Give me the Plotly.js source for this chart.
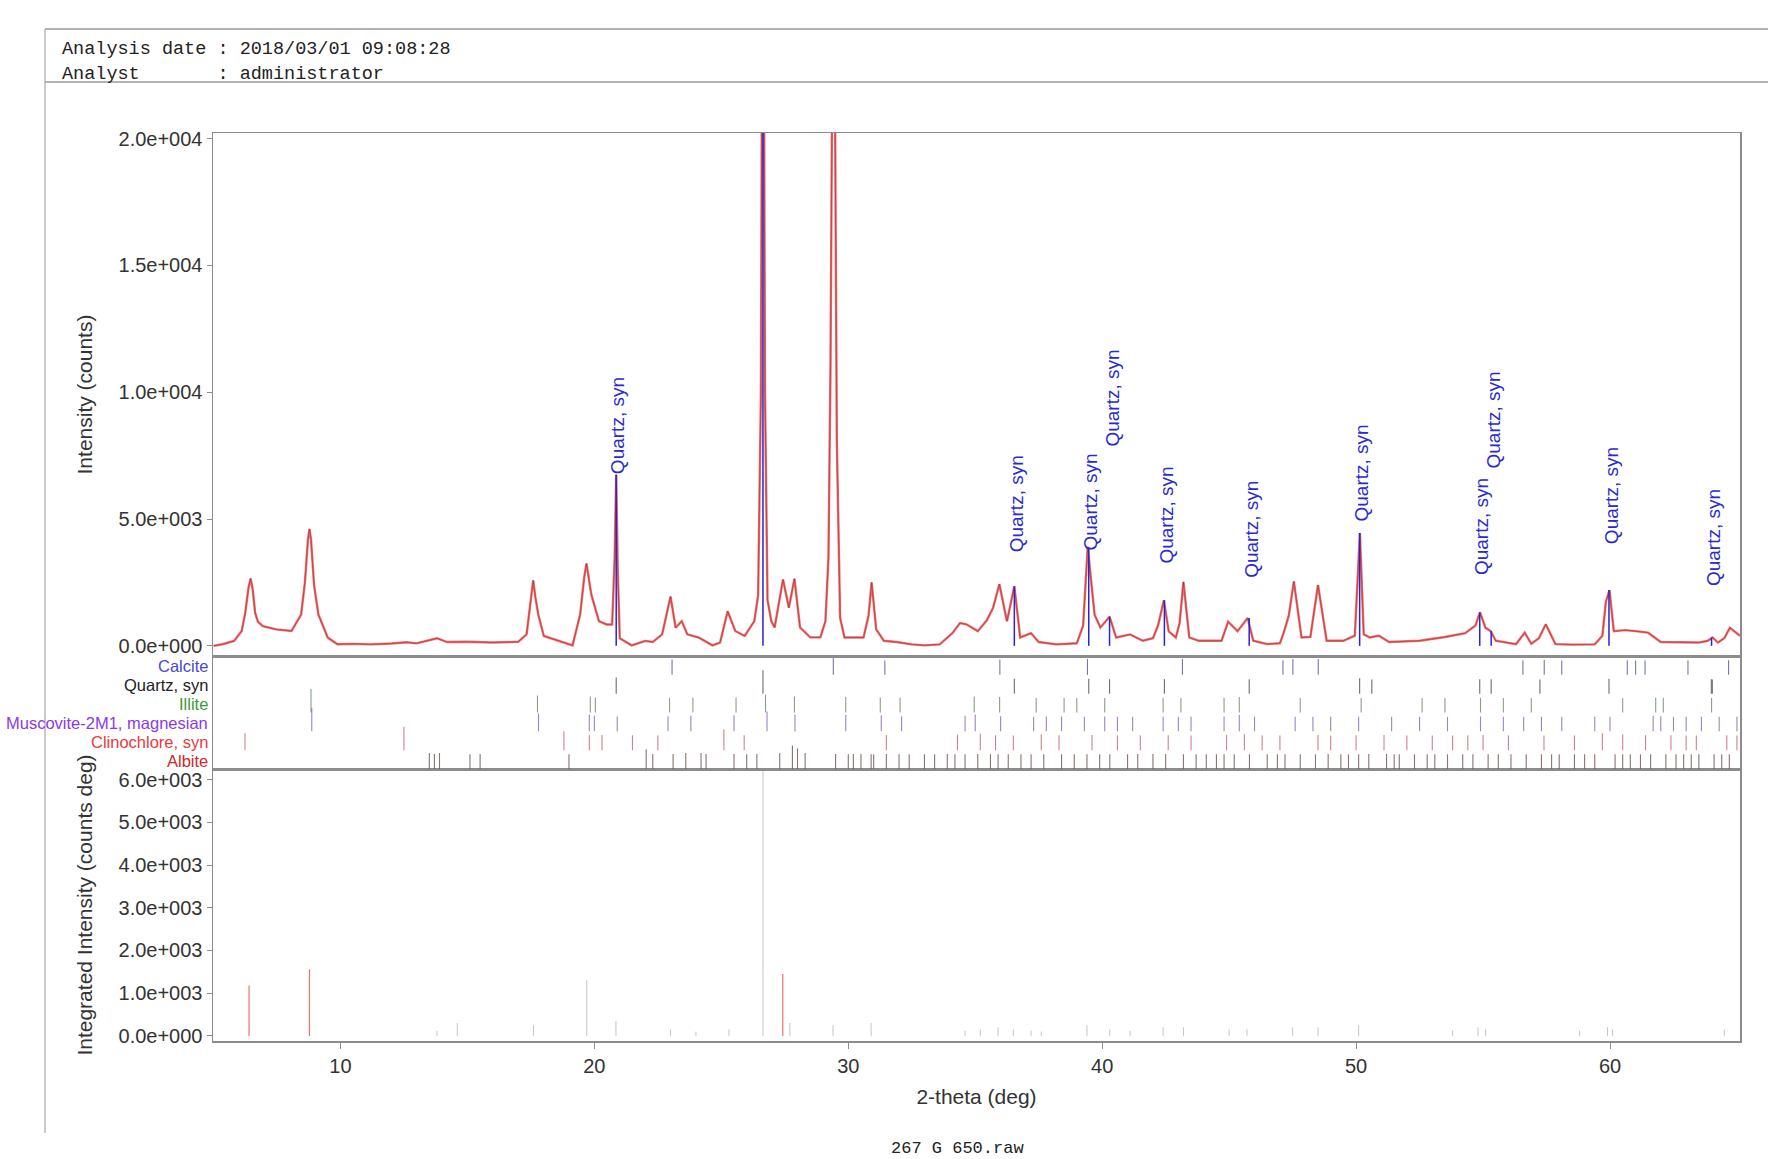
<!DOCTYPE html>
<html>
<head>
<meta charset="utf-8">
<script src="https://cdn.plot.ly/plotly-3.0.1.min.js"></script>
<style>
html,body{margin:0;padding:0;background:#ffffff;}
#chart{width:1768px;height:1159px;}
</style>
</head>
<body>
<div id="chart"></div>
<script>
// ---------------- DATA ----------------
// measured XRD profile: 2-theta (deg) and intensity (counts)
const twoTheta = [
  5.00, 5.35, 5.81, 6.11, 6.25, 6.38, 6.46, 6.54, 6.64, 6.75, 6.94, 7.47, 8.07, 8.45, 8.60, 8.72, 8.78, 8.84, 8.96, 9.13, 9.50, 9.88,
  10.50, 11.20, 12.00, 12.60, 13.00, 13.80, 14.20, 15.00, 16.00, 17.00, 17.33, 17.50, 17.59, 17.68, 17.79, 18.01, 18.62, 19.14, 19.44, 19.60, 19.69, 19.78, 19.88,
  20.18, 20.48, 20.70, 20.80, 20.86, 20.92, 21.00, 21.47, 22.00, 22.30, 22.67, 23.00, 23.20, 23.44, 23.66, 24.12, 24.65, 24.95, 25.25, 25.55, 25.92, 26.30, 26.45, 26.56, 26.64, 26.72, 26.82, 26.97,
  27.10, 27.43, 27.66, 27.88, 28.10, 28.50, 28.90, 29.10, 29.22, 29.30, 29.36, 29.42, 29.48, 29.55, 29.68, 29.85, 30.60, 30.80, 30.92, 31.10, 31.40, 31.90, 32.50, 33.00, 33.60,
  34.10, 34.40, 34.65, 35.10, 35.45, 35.70, 35.95, 36.25, 36.54, 36.77, 37.20, 37.50, 38.20, 39.00, 39.25, 39.43, 39.70, 39.93, 40.29, 40.55, 41.10, 41.60, 42.00, 42.20, 42.43, 42.62, 42.90, 43.05, 43.20, 43.43, 43.80, 44.70, 44.96, 45.33, 45.73, 45.95,
  46.50, 47.00, 47.17, 47.35, 47.55, 47.85, 48.20, 48.50, 48.84, 49.50, 49.95, 50.15, 50.30, 50.53, 50.90, 51.30, 52.50, 53.50, 54.30, 54.70, 54.88, 55.10, 55.30, 55.50, 56.30, 56.64, 56.90, 57.20, 57.47, 57.85, 58.50, 59.40, 59.70, 59.84, 59.98, 60.15, 60.60, 61.00, 61.50, 62.00, 63.00, 63.50, 63.85, 64.04, 64.25, 64.50, 64.72, 65.02, 65.12
];
const counts = [
  0, 65, 195, 585, 1300, 2300, 2660, 2250, 1300, 950, 780, 650, 585, 1235, 2500, 4200, 4610, 4200, 2400, 1235, 325, 65,
  80, 60, 90, 140, 100, 300, 150, 160, 130, 160, 455, 1900, 2580, 1900, 1235, 390, 195, 20, 1235, 2700, 3250, 2700, 2020,
  975, 845, 845, 3500, 6750, 3000, 300, 20, 195, 150, 455, 1945, 715, 975, 455, 325, 20, 130, 1365, 585, 390, 975, 2000, 10000, 36000, 10000, 1800, 970,
  725, 2620, 1500, 2650, 725, 335, 335, 970, 3500, 11000, 21000, 31000, 21000, 8000, 1100, 330, 330, 1200, 2500, 650, 200, 150, 60, 20, 60,
  500, 900, 850, 580, 1000, 1490, 2430, 970, 2350, 330, 500, 150, 60, 100, 800, 3900, 1230, 725, 1150, 330, 450, 200, 300, 800, 1800, 570, 330, 900, 2520, 330, 200, 200, 950, 580, 1100, 200,
  70, 100, 580, 1200, 2540, 330, 350, 2400, 200, 200, 400, 4450, 460, 330, 400, 150, 200, 350, 500, 800, 1320, 710, 580, 200, 70, 520, 80, 300, 850, 70, 50, 60, 400, 1750, 2200, 580, 620, 580, 520, 150, 120, 130, 200, 330, 130, 300, 710, 450, 400
];

// identified Quartz peaks (blue markers) and their labels
const quartzPeakPos = [20.86, 26.64, 36.54, 39.47, 40.29, 42.45, 45.79, 50.14, 54.87, 55.32, 59.96, 64.00];
const quartzPeakInt = [6750, 36000, 2350, 3900, 1150, 1800, 1100, 4450, 1320, 580, 2200, 330];
const quartzLabelPos = [20.86, 36.54, 39.47, 40.29, 42.45, 45.79, 50.14, 54.87, 55.32, 59.96, 64.00];
const quartzLabelY   = [6720, 3640, 3730, 7820, 3200, 2630, 4870, 2760, 6940, 3990, 2320];
const quartzLabelText = "Quartz, syn";

// phase names (top row to bottom row) and colours
const phaseNames  = ["Calcite", "Quartz, syn", "Illite", "Muscovite-2M1, magnesian", "Clinochlore, syn", "Albite"];
const phaseColors = ["#4848d0", "#222222", "#3a9a3a", "#8a3ae8", "#e83a3a", "#cc2a2a"];
const stickColors = ["#55559a", "#4a4a4a", "#6a8a6a", "#8468b0", "#cc6070", "#705050"];

// reference stick patterns (2-theta, relative intensity %)
const calcitePos = [23.06, 29.41, 31.44, 35.97, 39.42, 43.16, 47.12, 47.51, 48.51, 56.57, 57.41, 58.10, 60.68, 61.01, 61.38, 63.07, 64.67];
const calciteInt = [12, 100, 3, 14, 18, 18, 5, 17, 17, 4, 8, 2, 5, 3, 3, 2, 5];

const quartzPos = [20.86, 26.64, 36.54, 39.47, 40.29, 42.45, 45.79, 50.14, 50.62, 54.87, 55.32, 57.24, 59.96, 63.99, 64.03];
const quartzInt = [22, 100, 8, 8, 4, 6, 4, 14, 1, 4, 2, 1, 9, 2, 1];

const illitePos = [8.84, 17.76, 19.84, 20.04, 22.96, 23.88, 25.58, 26.74, 27.88, 29.90, 31.26, 32.04, 34.96, 35.96, 37.40, 38.50, 39.00, 40.10, 42.40, 43.10, 44.80, 45.40, 47.80, 50.20, 52.60, 53.50, 54.90, 55.80, 56.90, 60.50, 61.80, 62.10, 64.00];
const illiteInt = [100, 30, 20, 10, 6, 8, 10, 40, 20, 15, 10, 6, 20, 15, 4, 6, 4, 4, 6, 4, 6, 15, 4, 4, 4, 4, 6, 4, 4, 4, 10, 6, 4];

const muscovitePos = [8.87, 17.80, 19.80, 20.00, 20.90, 22.90, 23.80, 25.50, 26.80, 27.90, 29.90, 31.30, 32.10, 34.60, 35.00, 36.00, 37.30, 37.80, 38.40, 39.30, 40.10, 40.60, 41.20, 42.40, 43.00, 43.50, 44.80, 45.40, 46.00, 47.60, 48.30, 49.00, 50.10, 51.40, 52.50, 53.60, 54.90, 55.80, 56.60, 57.30, 58.10, 59.40, 60.00, 61.70, 62.00, 62.50, 63.00, 63.60, 64.30, 65.00];
const muscoviteInt = [100, 40, 30, 15, 8, 10, 15, 20, 60, 30, 25, 20, 10, 15, 30, 10, 6, 8, 8, 6, 8, 6, 4, 8, 4, 6, 8, 25, 6, 4, 6, 4, 6, 6, 6, 4, 8, 6, 6, 6, 4, 6, 4, 15, 10, 4, 6, 6, 4, 6];

const clinochlorePos = [6.24, 12.50, 18.80, 19.80, 20.30, 21.50, 22.50, 25.10, 25.90, 31.50, 34.30, 35.20, 35.80, 36.50, 37.60, 38.30, 39.60, 40.60, 41.50, 42.60, 43.50, 44.90, 45.60, 46.30, 47.00, 48.50, 49.00, 50.00, 51.10, 52.00, 53.00, 53.80, 54.40, 55.00, 56.00, 57.40, 58.60, 59.70, 60.50, 61.40, 62.40, 63.00, 63.40, 64.60, 65.00];
const clinochloreInt = [30, 100, 50, 10, 10, 8, 6, 70, 8, 10, 15, 25, 8, 6, 20, 8, 10, 6, 6, 8, 6, 15, 20, 6, 6, 10, 6, 8, 10, 6, 6, 6, 6, 10, 6, 6, 6, 30, 20, 8, 8, 6, 6, 8, 6];

const albitePos = [13.50, 13.70, 13.90, 15.10, 15.50, 19.00,
  22.04, 22.30, 23.10, 23.60, 24.20, 24.40,
  25.50, 26.00, 26.40, 27.30, 27.80, 28.00, 28.30,
  29.50, 30.00, 30.20, 30.50, 30.90, 31.00, 31.50, 32.00, 32.40,
  33.00, 33.40, 33.90, 34.20, 34.60, 35.10, 35.60, 35.90,
  36.30, 36.80, 37.20, 37.70, 38.40, 38.90, 39.40, 39.90,
  40.30, 41.00, 41.40, 42.00, 42.50, 43.20, 43.70,
  44.10, 44.50, 44.80, 45.20, 45.80, 46.50, 46.90,
  47.20, 47.80, 48.40, 48.90, 49.40, 49.70, 50.10,
  50.50, 51.20, 51.50, 51.70, 52.30, 52.80, 53.10, 53.60, 54.20, 54.60,
  55.20, 55.60, 56.10, 56.70, 57.30, 57.70, 58.00, 58.60, 59.00, 59.40,
  60.20, 60.50, 60.80, 61.20, 61.60, 62.20, 62.60, 62.90, 63.20, 63.50, 64.10, 64.40, 64.70];
const albiteInt = [20, 8, 20, 6, 8, 6,
  60, 8, 10, 20, 20, 10,
  8, 6, 8, 20, 100, 70, 20,
  8, 6, 10, 8, 6, 6, 8, 6, 6,
  6, 6, 8, 6, 6, 10, 8, 6,
  6, 6, 6, 6, 6, 6, 6, 6,
  6, 6, 8, 10, 8, 6, 6,
  6, 6, 6, 6, 6, 6, 6,
  6, 6, 6, 8, 6, 6, 6,
  8, 8, 6, 6, 6, 6, 6, 6, 6, 6,
  6, 6, 6, 6, 6, 6, 6, 6, 6, 6,
  6, 6, 6, 6, 6, 6, 6, 6, 6, 6, 6, 6, 6];

// integrated intensity (counts deg)
const integRedPos  = [6.40, 8.78, 27.42];
const integRedVal  = [1180, 1560, 1450];
const integGrayPos = [13.80, 14.60, 17.60, 19.70, 20.85, 23.00, 24.00, 25.30, 26.64, 27.70,
  29.40, 30.90, 34.60, 35.20, 35.90, 36.50, 37.20, 37.60, 39.40, 40.30,
  41.10, 42.40, 43.20, 45.00, 45.70, 47.50, 48.50, 50.10, 53.80, 54.80,
  55.10, 58.80, 59.90, 60.10, 64.50];
const integGrayVal = [120, 300, 250, 1300, 350, 150, 100, 150, 9000, 300,
  250, 300, 120, 150, 200, 150, 120, 100, 250, 150,
  120, 200, 200, 150, 150, 200, 200, 250, 120, 200,
  150, 120, 200, 150, 150];

// tick labels
const thetaTicks = [10, 20, 30, 40, 50, 60];
const intensityTickVals = [0, 5000, 10000, 15000, 20000];
const intensityTickText = ["0.0e+000", "5.0e+003", "1.0e+004", "1.5e+004", "2.0e+004"];
const integTickVals = [0, 1000, 2000, 3000, 4000, 5000, 6000];
const integTickText = ["0.0e+000", "1.0e+003", "2.0e+003", "3.0e+003", "4.0e+003", "5.0e+003", "6.0e+003"];

// header / footer text
const headerLine1 = "Analysis date : 2018/03/01 09:08:28";
const headerLine2 = "Analyst\u00a0\u00a0\u00a0\u00a0\u00a0\u00a0 : administrator";
const footerText = "267 G 650.raw";

// ---------------- BUILD ----------------
function stickXY(pos, top, base) {
  const xs = [], ys = [];
  const n = Math.min(pos.length, top.length);
  for (let i = 0; i < n; i++) {
    xs.push(pos[i], pos[i], null);
    ys.push(base, top[i], null);
  }
  return {xs, ys};
}

const traces = [];

// top panel: profile
traces.push({x: twoTheta, y: counts, xaxis: 'x3', yaxis: 'y3', type: 'scatter', mode: 'lines',
  line: {color: 'rgba(245,80,80,0.85)', width: 2.4}, hoverinfo: 'skip'});
traces.push({x: twoTheta, y: counts, xaxis: 'x3', yaxis: 'y3', type: 'scatter', mode: 'lines',
  line: {color: 'rgba(110,30,30,0.55)', width: 0.8}, hoverinfo: 'skip'});

// quartz peak markers
const qm = stickXY(quartzPeakPos, quartzPeakInt, 0);
traces.push({x: qm.xs, y: qm.ys, xaxis: 'x3', yaxis: 'y3', type: 'scatter', mode: 'lines',
  line: {color: '#2424d8', width: 1.5}, hoverinfo: 'skip'});

// middle panel: phase sticks
const phaseData = [
  [calcitePos, calciteInt], [quartzPos, quartzInt], [illitePos, illiteInt],
  [muscovitePos, muscoviteInt], [clinochlorePos, clinochloreInt], [albitePos, albiteInt]
];
phaseData.forEach((pd, k) => {
  const row = phaseData.length - 1 - k;
  const tops = pd[1].map(v => row + 0.75 + 0.5 * v / 100);
  const s = stickXY(pd[0], tops, row);
  traces.push({x: s.xs, y: s.ys, xaxis: 'x2', yaxis: 'y2', type: 'scatter', mode: 'lines',
    line: {color: stickColors[k], width: 1.1}, opacity: 0.8, hoverinfo: 'skip'});
});

// bottom panel: integrated intensity
const ig = stickXY(integGrayPos, integGrayVal, 0);
traces.push({x: ig.xs, y: ig.ys, xaxis: 'x', yaxis: 'y', type: 'scatter', mode: 'lines',
  line: {color: '#c4c4c8', width: 1}, hoverinfo: 'skip'});
const ir = stickXY(integRedPos, integRedVal, 0);
traces.push({x: ir.xs, y: ir.ys, xaxis: 'x', yaxis: 'y', type: 'scatter', mode: 'lines',
  line: {color: '#f07070', width: 1.2}, hoverinfo: 'skip'});

// ---------------- LAYOUT ----------------
const W = 1768, H = 1159;
const L = 213, R = 1740, T = 133, B = 1041;
const px = x => (x - L) / (R - L);
const py = y => (B - y) / (B - T);

const lineCol = '#8c8c8c';
const sans = 'Liberation Sans, Arial, sans-serif';
const mono = 'Liberation Mono, Courier New, monospace';
const tickFont = {family: sans, size: 20, color: '#333333'};
const titleFont = {family: sans, size: 21, color: '#333333'};
const xRange = [4.98, 65.12];

const frame = {showline: true, linecolor: lineCol, linewidth: 1.5, mirror: true, showgrid: false, zeroline: false};

const annotations = [];
quartzLabelPos.forEach((x, i) => {
  annotations.push({x: x, y: quartzLabelY[i], xref: 'x3', yref: 'y3', text: quartzLabelText,
    textangle: -90, xanchor: 'center', yanchor: 'bottom', showarrow: false, borderpad: 0,
    xshift: 2, font: {family: sans, size: 19, color: '#2a2ad0'}});
});
phaseNames.forEach((name, k) => {
  const row = phaseNames.length - 1 - k;
  annotations.push({x: 0, y: row + 0.45, xref: 'paper', yref: 'y2', text: name,
    xanchor: 'right', yanchor: 'middle', xshift: -4, showarrow: false, borderpad: 0,
    font: {family: sans, size: 16.5, color: phaseColors[k]}});
});
annotations.push({x: px(61), y: py(50), xref: 'paper', yref: 'paper', text: headerLine1,
  xanchor: 'left', yanchor: 'middle', showarrow: false, borderpad: 0,
  font: {family: mono, size: 18.5, color: '#222222'}});
annotations.push({x: px(61), y: py(74), xref: 'paper', yref: 'paper', text: headerLine2,
  xanchor: 'left', yanchor: 'middle', showarrow: false, borderpad: 0,
  font: {family: mono, size: 18.5, color: '#222222'}});
annotations.push({x: px(957), y: py(1148), xref: 'paper', yref: 'paper', text: footerText,
  xanchor: 'center', yanchor: 'middle', showarrow: false, borderpad: 0,
  font: {family: mono, size: 17, color: '#222222'}});

const shapes = [
  {type: 'line', xref: 'paper', yref: 'paper', x0: px(45), x1: px(1768), y0: py(29), y1: py(29), line: {color: '#9a9a9a', width: 1.5}},
  {type: 'line', xref: 'paper', yref: 'paper', x0: px(45), x1: px(1768), y0: py(82), y1: py(82), line: {color: '#9a9a9a', width: 1.5}},
  {type: 'line', xref: 'paper', yref: 'paper', x0: px(45), x1: px(45), y0: py(29), y1: py(1133), line: {color: '#a8a8a8', width: 1.2}}
];

const dBot = py(769), dMid = py(656);

const layout = {
  width: W, height: H,
  paper_bgcolor: '#ffffff', plot_bgcolor: '#ffffff',
  showlegend: false,
  margin: {l: L, r: W - R, t: T, b: H - B, pad: 0},
  xaxis: Object.assign({}, frame, {domain: [0, 1], anchor: 'y', range: xRange,
    tickmode: 'array', tickvals: thetaTicks, ticktext: thetaTicks.map(String),
    ticks: 'outside', ticklen: 6, tickwidth: 1, tickcolor: lineCol, tickfont: tickFont,
    title: {text: '2-theta (deg)', font: titleFont, standoff: 14}}),
  yaxis: Object.assign({}, frame, {domain: [0, dBot], anchor: 'x', range: [-120, 6250],
    tickmode: 'array', tickvals: integTickVals, ticktext: integTickText,
    ticks: 'outside', ticklen: 5, tickwidth: 1, tickcolor: lineCol, tickfont: tickFont,
    title: {text: 'Integrated Intensity (counts deg)', font: titleFont, standoff: 20}}),
  xaxis2: Object.assign({}, frame, {domain: [0, 1], anchor: 'y2', range: xRange, showticklabels: false, ticks: ''}),
  yaxis2: Object.assign({}, frame, {domain: [dBot, dMid], anchor: 'x2', range: [0, 6], showticklabels: false, ticks: ''}),
  xaxis3: Object.assign({}, frame, {domain: [0, 1], anchor: 'y3', range: xRange, showticklabels: false, ticks: ''}),
  yaxis3: Object.assign({}, frame, {domain: [dMid, 1], anchor: 'x3', range: [-400, 20222],
    tickmode: 'array', tickvals: intensityTickVals, ticktext: intensityTickText,
    ticks: 'outside', ticklen: 5, tickwidth: 1, tickcolor: lineCol, tickfont: tickFont,
    title: {text: 'Intensity (counts)', font: titleFont, standoff: 20}}),
  annotations: annotations,
  shapes: shapes
};

Plotly.newPlot('chart', traces, layout, {staticPlot: true, displayModeBar: false});
</script>
</body>
</html>
